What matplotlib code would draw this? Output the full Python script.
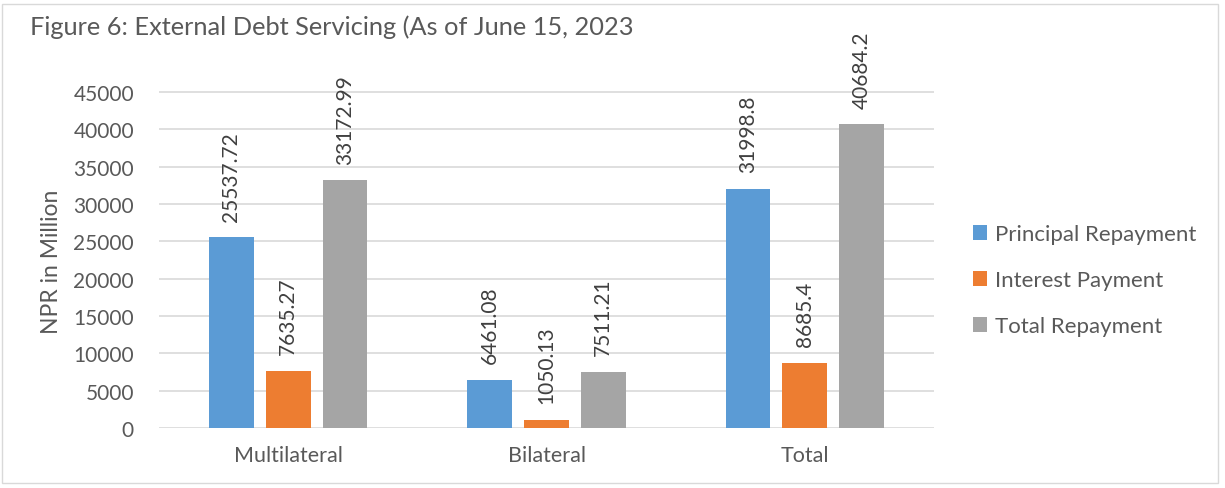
import matplotlib
matplotlib.use("Agg")
import matplotlib.pyplot as plt
from matplotlib.patches import Rectangle
import numpy as np

categories = ["Multilateral", "Bilateral", "Total"]
series_names = ["Principal Repayment", "Interest Payment", "Total Repayment"]
principal = [25537.72, 6461.08, 31998.8]
interest = [7635.27, 1050.13, 8685.4]
total = [33172.99, 7511.21, 40684.2]
labels_principal = ["25537.72", "6461.08", "31998.8"]
labels_interest = ["7635.27", "1050.13", "8685.4"]
labels_total = ["33172.99", "7511.21", "40684.2"]
yticks = [0, 5000, 10000, 15000, 20000, 25000, 30000, 35000, 40000, 45000]

colors = ["#5B9BD5", "#ED7D31", "#A5A5A5"]
text_color = "#595959"
plt.rcParams['font.family'] = ['Lato', 'DejaVu Sans']

W, H = 1225, 489
fig = plt.figure(figsize=(W / 100, H / 100), dpi=100)
ax = fig.add_axes([159 / W, 1 - 429 / H, (934 - 159) / W, (429 - 93) / H * 50000 / 45000])

x = np.arange(len(categories))
bw = 0.174
step = 0.22
data = [principal, interest, total]
labs = [labels_principal, labels_interest, labels_total]
for i, (vals, lab, c, name) in enumerate(zip(data, labs, colors, series_names)):
    pos = x + (i - 1) * step
    ax.bar(pos, vals, width=bw, color=c, label=name, zorder=3)
    for p, v, t in zip(pos, vals, lab):
        ax.annotate(t, (p, v), xytext=(0, 12), textcoords='offset points',
                    rotation=90, ha='center', va='bottom',
                    fontsize=15, color="#404040")

ax.set_xlim(-0.5, 2.5)
ax.set_ylim(0, 50000)
ax.set_yticks(yticks)
ax.set_yticklabels([str(t) for t in yticks])
ax.set_xticks(x)
ax.set_xticklabels(categories)
ax.tick_params(axis='both', length=0, labelsize=15, colors=text_color)
ax.tick_params(axis='x', labelsize=15.5, pad=12)
ax.tick_params(axis='y', pad=18)
for t in yticks:
    ax.axhline(t, color="#D9D9D9", lw=1.2, zorder=1)
for s in ax.spines.values():
    s.set_visible(False)

fig.text(52 / W, 1 - 262 / H, "NPR in Million", rotation=90, fontsize=16.5,
         color=text_color, ha='center', va='center')

fig.text(30 / W, 1 - 27 / H, "Figure 6: External Debt Servicing (As of June 15, 2023",
         fontsize=18.3, color=text_color, ha='left', va='center')

fig.legend(loc='upper left', bbox_to_anchor=(953 / W, 1 - 205 / H), frameon=False,
           fontsize=16, labelcolor=text_color, handlelength=0.65, handleheight=0.65,
           handletextpad=0.35, labelspacing=1.17)

fig.patches.append(Rectangle((2 / W, 5 / H), (1218 - 2) / W, (484 - 5) / H,
                             transform=fig.transFigure, fill=False, edgecolor="#D9D9D9", lw=1))

fig.savefig("out.png", dpi=100)
